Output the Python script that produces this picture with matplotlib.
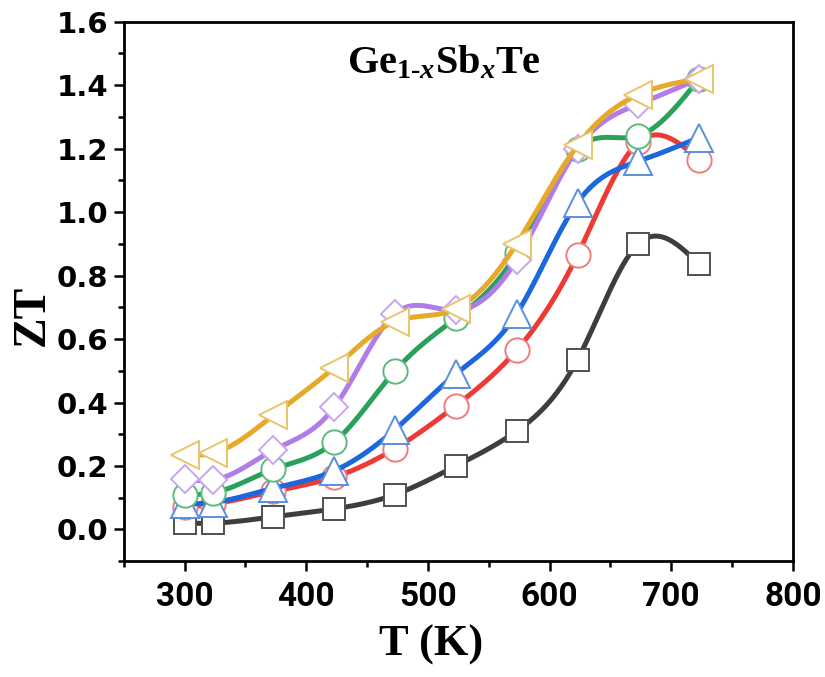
import numpy as np
import matplotlib
matplotlib.use("Agg")
import matplotlib.pyplot as plt
from matplotlib.ticker import MultipleLocator

# temperatures (K) and ZT values
temps = [300, 323, 373, 423, 473, 523, 573, 623, 673, 723]
zt_x0 = [0.02, 0.02, 0.04, 0.065, 0.11, 0.20, 0.31, 0.535, 0.90, 0.835]
zt_x1 = [0.07, 0.08, 0.12, 0.165, 0.255, 0.39, 0.565, 0.865, 1.22, 1.165]
zt_x2 = [0.08, 0.085, 0.13, 0.185, 0.315, 0.49, 0.68, 1.03, 1.16, 1.235]
zt_x3 = [0.11, 0.115, 0.19, 0.275, 0.50, 0.665, 0.87, 1.20, 1.24, 1.42]
zt_x4 = [0.16, 0.155, 0.25, 0.385, 0.68, 0.69, 0.85, 1.20, 1.34, 1.42]
zt_x5 = [0.235, 0.24, 0.36, 0.51, 0.655, 0.695, 0.90, 1.21, 1.37, 1.42]

series = [
    (zt_x0, "#3d3d3d", "#505050", "s", 15.5),
    (zt_x1, "#ee3a35", "#f07c7c", "o", 17.5),
    (zt_x2, "#1c66de", "#5a8ede", "^", 20),
    (zt_x3, "#2ba05a", "#5bbb7d", "o", 17.5),
    (zt_x4, "#b07de8", "#c9a5f0", "D", 14),
    (zt_x5, "#e6a92a", "#e8c56c", "<", 20),
]


# natural cubic spline, used only to draw the smooth connecting line
def spline_curve(x, y, n=400):
    x = np.asarray(x, float)
    y = np.asarray(y, float)
    k = len(x)
    h = np.diff(x)
    A = np.zeros((k, k))
    b = np.zeros(k)
    A[0, 0] = 1
    A[-1, -1] = 1
    for i in range(1, k - 1):
        A[i, i - 1] = h[i - 1]
        A[i, i] = 2 * (h[i - 1] + h[i])
        A[i, i + 1] = h[i]
        b[i] = 3 * ((y[i + 1] - y[i]) / h[i] - (y[i] - y[i - 1]) / h[i - 1])
    c = np.linalg.solve(A, b)
    xs = np.linspace(x[0], x[-1], n)
    idx = np.clip(np.searchsorted(x, xs) - 1, 0, k - 2)
    dx = xs - x[idx]
    hi = h[idx]
    bb = (y[idx + 1] - y[idx]) / hi - hi * (2 * c[idx] + c[idx + 1]) / 3
    dd = (c[idx + 1] - c[idx]) / (3 * hi)
    ys = y[idx] + bb * dx + c[idx] * dx ** 2 + dd * dx ** 3
    return xs, ys


plt.rcParams["mathtext.fontset"] = "custom"
plt.rcParams["mathtext.rm"] = "Liberation Serif:bold"
plt.rcParams["mathtext.it"] = "Liberation Serif:bold:italic"
plt.rcParams["mathtext.bf"] = "Liberation Serif:bold"

fig = plt.figure(figsize=(8.25, 6.77), dpi=100)
ax = fig.add_axes([0.150, 0.171, 0.811, 0.797])

z = 2
for vals, lc, ec, mk, ms in series:
    xs, ys = spline_curve(temps, vals)
    ax.plot(xs, ys, color=lc, lw=3.6, zorder=z, solid_capstyle="round")
    ax.plot(temps, vals, ls="none", marker=mk, ms=ms, mfc="white",
            mec=ec, mew=1.4, zorder=z + 1)
    z += 2

ax.set_xlim(250, 800)
ax.set_ylim(-0.1, 1.6)
ax.xaxis.set_minor_locator(MultipleLocator(50))
ax.yaxis.set_minor_locator(MultipleLocator(0.1))
ax.set_yticks([0.0, 0.2, 0.4, 0.6, 0.8, 1.0, 1.2, 1.4, 1.6])
ax.set_xticks([300, 400, 500, 600, 700, 800])

for sp in ax.spines.values():
    sp.set_linewidth(2)

ax.tick_params(which="both", direction="out", width=1.8, top=False, right=False)
ax.tick_params(which="major", length=7)
ax.tick_params(which="minor", length=4)
ax.tick_params(axis="y", pad=4)
ax.tick_params(axis="x", pad=7)

for lab in ax.get_yticklabels():
    lab.set_fontfamily(["DejaVu Sans"])
    lab.set_fontweight("bold")
    lab.set_fontsize(21)
for lab in ax.get_xticklabels():
    lab.set_fontfamily(["Roboto", "DejaVu Sans"])
    lab.set_fontweight("bold")
    lab.set_fontsize(24)

ax.set_xlabel("T (K)", family="Liberation Serif", weight="bold", fontsize=32)
ax.set_ylabel("ZT", family="Liberation Serif", weight="bold", fontsize=33)
ax.xaxis.set_label_coords(0.46, -0.118)
ax.yaxis.set_label_coords(-0.104, 0.456)

ax.text(0.478, 0.905, r"$\mathrm{Ge}_{\mathrm{1\text{-}}x}\mathrm{Sb}_{x}\mathrm{Te}$",
        transform=ax.transAxes, ha="center", va="baseline", fontsize=29)

fig.savefig("out.png", dpi=100)
